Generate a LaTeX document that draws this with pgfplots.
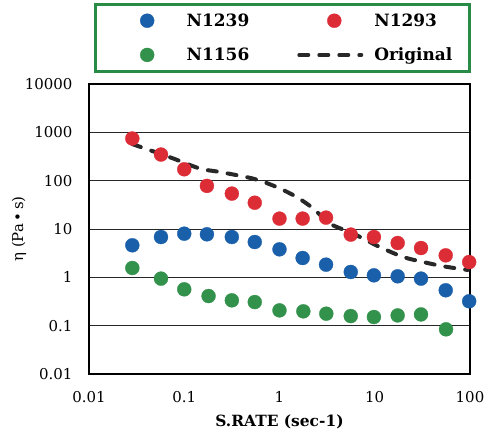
\documentclass[border=0pt]{standalone}
\usepackage{fontspec}
\setmainfont{DejaVu Serif}
\usepackage{pgfplots}
\pgfplotsset{compat=1.18}
\definecolor{ptblue}{RGB}{25,95,170}
\definecolor{ptred}{RGB}{220,45,55}
\definecolor{ptgreen}{RGB}{50,145,75}
\definecolor{legframe}{RGB}{40,140,70}
\definecolor{origline}{RGB}{40,40,40}
\pgfplotsset{
    dotleg/.style={legend image code/.code={\draw[##1] plot coordinates {(35bp,0bp)}; \path (0bp,0bp) (62bp,0bp);}},
    lineleg/.style={legend image code/.code={\draw[##1] (0bp,0bp) -- (62bp,0bp);}},
    origstyle/.style={origline, line width=4bp, line cap=round, dash pattern=on 9bp off 11bp},
}
\begin{document}
\begin{tikzpicture}
\begin{axis}[
    at={(0bp,0bp)}, anchor=south west,
    scale only axis, width=381bp, height=290bp,
    xmode=log, ymode=log,
    xmin=0.01, xmax=100, ymin=0.01, ymax=10000,
    xtick={0.01,0.1,1,10,100},
    xticklabels={0.01,0.1,1,10,100},
    ytick={0.01,0.1,1,10,100,1000,10000},
    yticklabels={0.01,0.1,1,10,100,1000,10000},
    xminorticks=false, yminorticks=false,
    major tick length=0pt,
    ymajorgrids,
    major grid style={black!85, line width=0.7bp},
    axis line style={black, line width=1.2bp},
    /pgf/number format/assume math mode=true,
    tick label style={font=\fontsize{15}{18}\selectfont},
    xticklabel style={yshift=-14bp},
    yticklabel style={xshift=-13bp},
    xlabel={\textbf{S.RATE (sec-1)}},
    xlabel style={font=\fontsize{15.5}{18}\selectfont, at={(axis description cs:0.5,0)}, anchor=center, yshift=-48bp},
    ylabel={η (Pa\,•\,s)},
    ylabel style={font=\fontsize{15}{18}\selectfont, at={(axis description cs:0,0.5)}, anchor=center, yshift=70bp},
    legend columns=2,
    legend cell align=left,
    legend style={at={(axis description cs:0.508,1.159)}, anchor=center,
        draw=legframe, line width=3bp, inner xsep=15bp, inner ysep=7.5bp,
        font=\bfseries\fontsize{17}{20}\selectfont,
        /tikz/every odd column/.append style={column sep=9bp},
        /tikz/every even column/.append style={column sep=46bp},
        row sep=16bp},
    every axis plot/.append style={only marks, mark=*, mark size=7bp},
]
\addplot[forget plot, origstyle, smooth, no marks] coordinates {
    (0.0285,570) (0.047,406) (0.077,287) (0.146,178) (0.237,151)
    (0.53,110) (0.93,74) (1.51,46) (2.26,26.6) (3.39,12.9)
    (5.96,8.0) (11.3,4.24) (20,2.63) (32.4,2.07) (52.5,1.69) (95,1.42)
};
\addplot[dotleg, mark options={fill=ptblue, draw=ptblue, line width=0.3bp}]
coordinates { % N1239
    (0.0285,4.6) (0.057,6.83) (0.1,8.0) (0.173,7.77) (0.316,6.83)
    (0.55,5.38) (1.0,3.8) (1.75,2.51) (3.08,1.83) (5.6,1.29)
    (9.8,1.1) (17.4,1.05) (30.6,0.94) (55.6,0.54) (98,0.32)
};
\addlegendentry{N1239}
\addplot[dotleg, mark options={fill=ptred, draw=ptred, line width=0.3bp}]
coordinates { % N1293
    (0.0285,745) (0.057,347) (0.1,172) (0.173,78) (0.316,54)
    (0.55,35) (1.0,16.4) (1.75,16.4) (3.08,17.2) (5.6,7.66)
    (9.8,6.83) (17.4,5.13) (30.6,4.04) (55.6,2.85) (98,2.07)
};
\addlegendentry{N1293}
\addplot[dotleg, mark options={fill=ptgreen, draw=ptgreen, line width=0.3bp}]
coordinates { % N1156
    (0.0285,1.56) (0.057,0.94) (0.1,0.565) (0.18,0.41) (0.316,0.334)
    (0.55,0.308) (1.0,0.207) (1.78,0.198) (3.1,0.177) (5.6,0.158)
    (9.8,0.151) (17.4,0.163) (30.6,0.171) (56,0.084)
};
\addlegendentry{N1156}
\addlegendimage{lineleg, origstyle}
\addlegendentry{Original}
\end{axis}
\pgfresetboundingbox
\path[use as bounding box] (-89bp,-67bp) rectangle (402bp,374bp);
\end{tikzpicture}
\end{document}
